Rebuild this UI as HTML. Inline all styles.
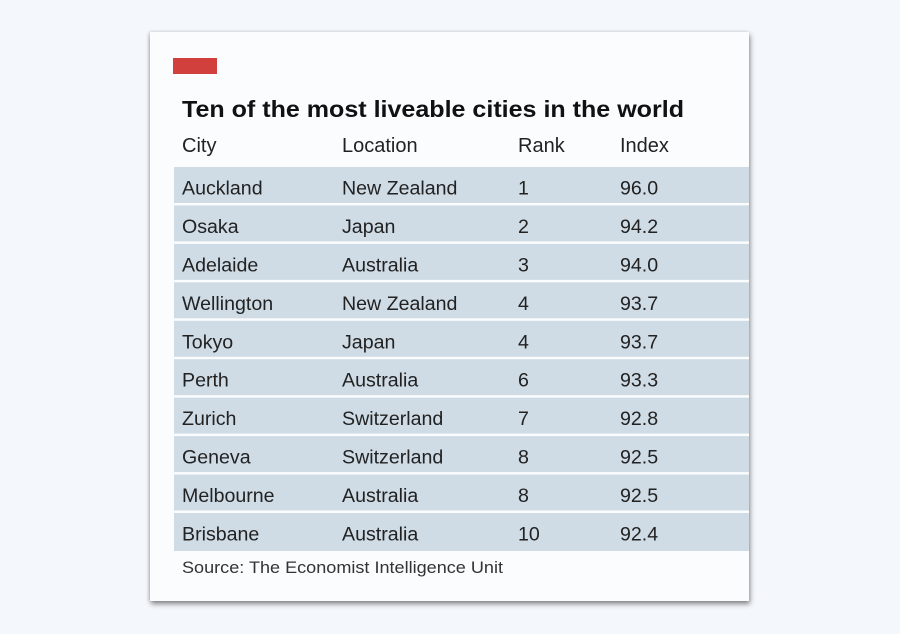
<!DOCTYPE html>
<html>
<head>
<meta charset="utf-8">
<style>
html,body{margin:0;padding:0;background:#f4f7fb;}
body{width:900px;height:634px;overflow:hidden;position:relative;}
.card{position:absolute;left:150px;top:32px;width:599px;height:569px;background:#fbfcfe;box-shadow:1px 3px 5px rgba(0,0,0,0.45),-1px 0 3px rgba(0,0,0,0.15);}
svg{position:absolute;left:0;top:0;}
text{font-family:"Liberation Sans",sans-serif;fill:#222;}
</style>
</head>
<body>
<div class="card"></div>
<svg width="900" height="634" viewBox="0 0 900 634">
<rect x="173" y="58" width="44" height="16" fill="#d1403d"/>
<text x="182" y="117" font-size="23" font-weight="bold" fill="#111" style="fill:#111" textLength="502" lengthAdjust="spacingAndGlyphs">Ten of the most liveable cities in the world</text>
<g font-size="20">
<text x="182" y="152">City</text>
<text x="342" y="152">Location</text>
<text x="518" y="152">Rank</text>
<text x="620" y="152">Index</text>
</g>
<g fill="#cfdce6">
<rect x="174" y="167" width="575" height="36"/>
<rect x="174" y="205.4" width="575" height="36"/>
<rect x="174" y="243.9" width="575" height="36"/>
<rect x="174" y="282.3" width="575" height="36"/>
<rect x="174" y="320.8" width="575" height="36"/>
<rect x="174" y="359.2" width="575" height="36"/>
<rect x="174" y="397.6" width="575" height="36"/>
<rect x="174" y="436.1" width="575" height="36"/>
<rect x="174" y="474.5" width="575" height="36"/>
<rect x="174" y="513" width="575" height="38"/>
</g>
<g font-size="19.6">
<text x="182" y="194.5">Auckland</text><text x="342" y="194.5">New Zealand</text><text x="518" y="194.5">1</text><text x="620" y="194.5">96.0</text>
<text x="182" y="233">Osaka</text><text x="342" y="233">Japan</text><text x="518" y="233">2</text><text x="620" y="233">94.2</text>
<text x="182" y="271.4">Adelaide</text><text x="342" y="271.4">Australia</text><text x="518" y="271.4">3</text><text x="620" y="271.4">94.0</text>
<text x="182" y="309.8">Wellington</text><text x="342" y="309.8">New Zealand</text><text x="518" y="309.8">4</text><text x="620" y="309.8">93.7</text>
<text x="182" y="348.3">Tokyo</text><text x="342" y="348.3">Japan</text><text x="518" y="348.3">4</text><text x="620" y="348.3">93.7</text>
<text x="182" y="386.7">Perth</text><text x="342" y="386.7">Australia</text><text x="518" y="386.7">6</text><text x="620" y="386.7">93.3</text>
<text x="182" y="425.1">Zurich</text><text x="342" y="425.1">Switzerland</text><text x="518" y="425.1">7</text><text x="620" y="425.1">92.8</text>
<text x="182" y="463.6">Geneva</text><text x="342" y="463.6">Switzerland</text><text x="518" y="463.6">8</text><text x="620" y="463.6">92.5</text>
<text x="182" y="502">Melbourne</text><text x="342" y="502">Australia</text><text x="518" y="502">8</text><text x="620" y="502">92.5</text>
<text x="182" y="540.5">Brisbane</text><text x="342" y="540.5">Australia</text><text x="518" y="540.5">10</text><text x="620" y="540.5">92.4</text>
</g>
<text x="182" y="573" font-size="17" fill="#333" style="fill:#333" textLength="321" lengthAdjust="spacingAndGlyphs">Source: The Economist Intelligence Unit</text>
</svg>
</body>
</html>
